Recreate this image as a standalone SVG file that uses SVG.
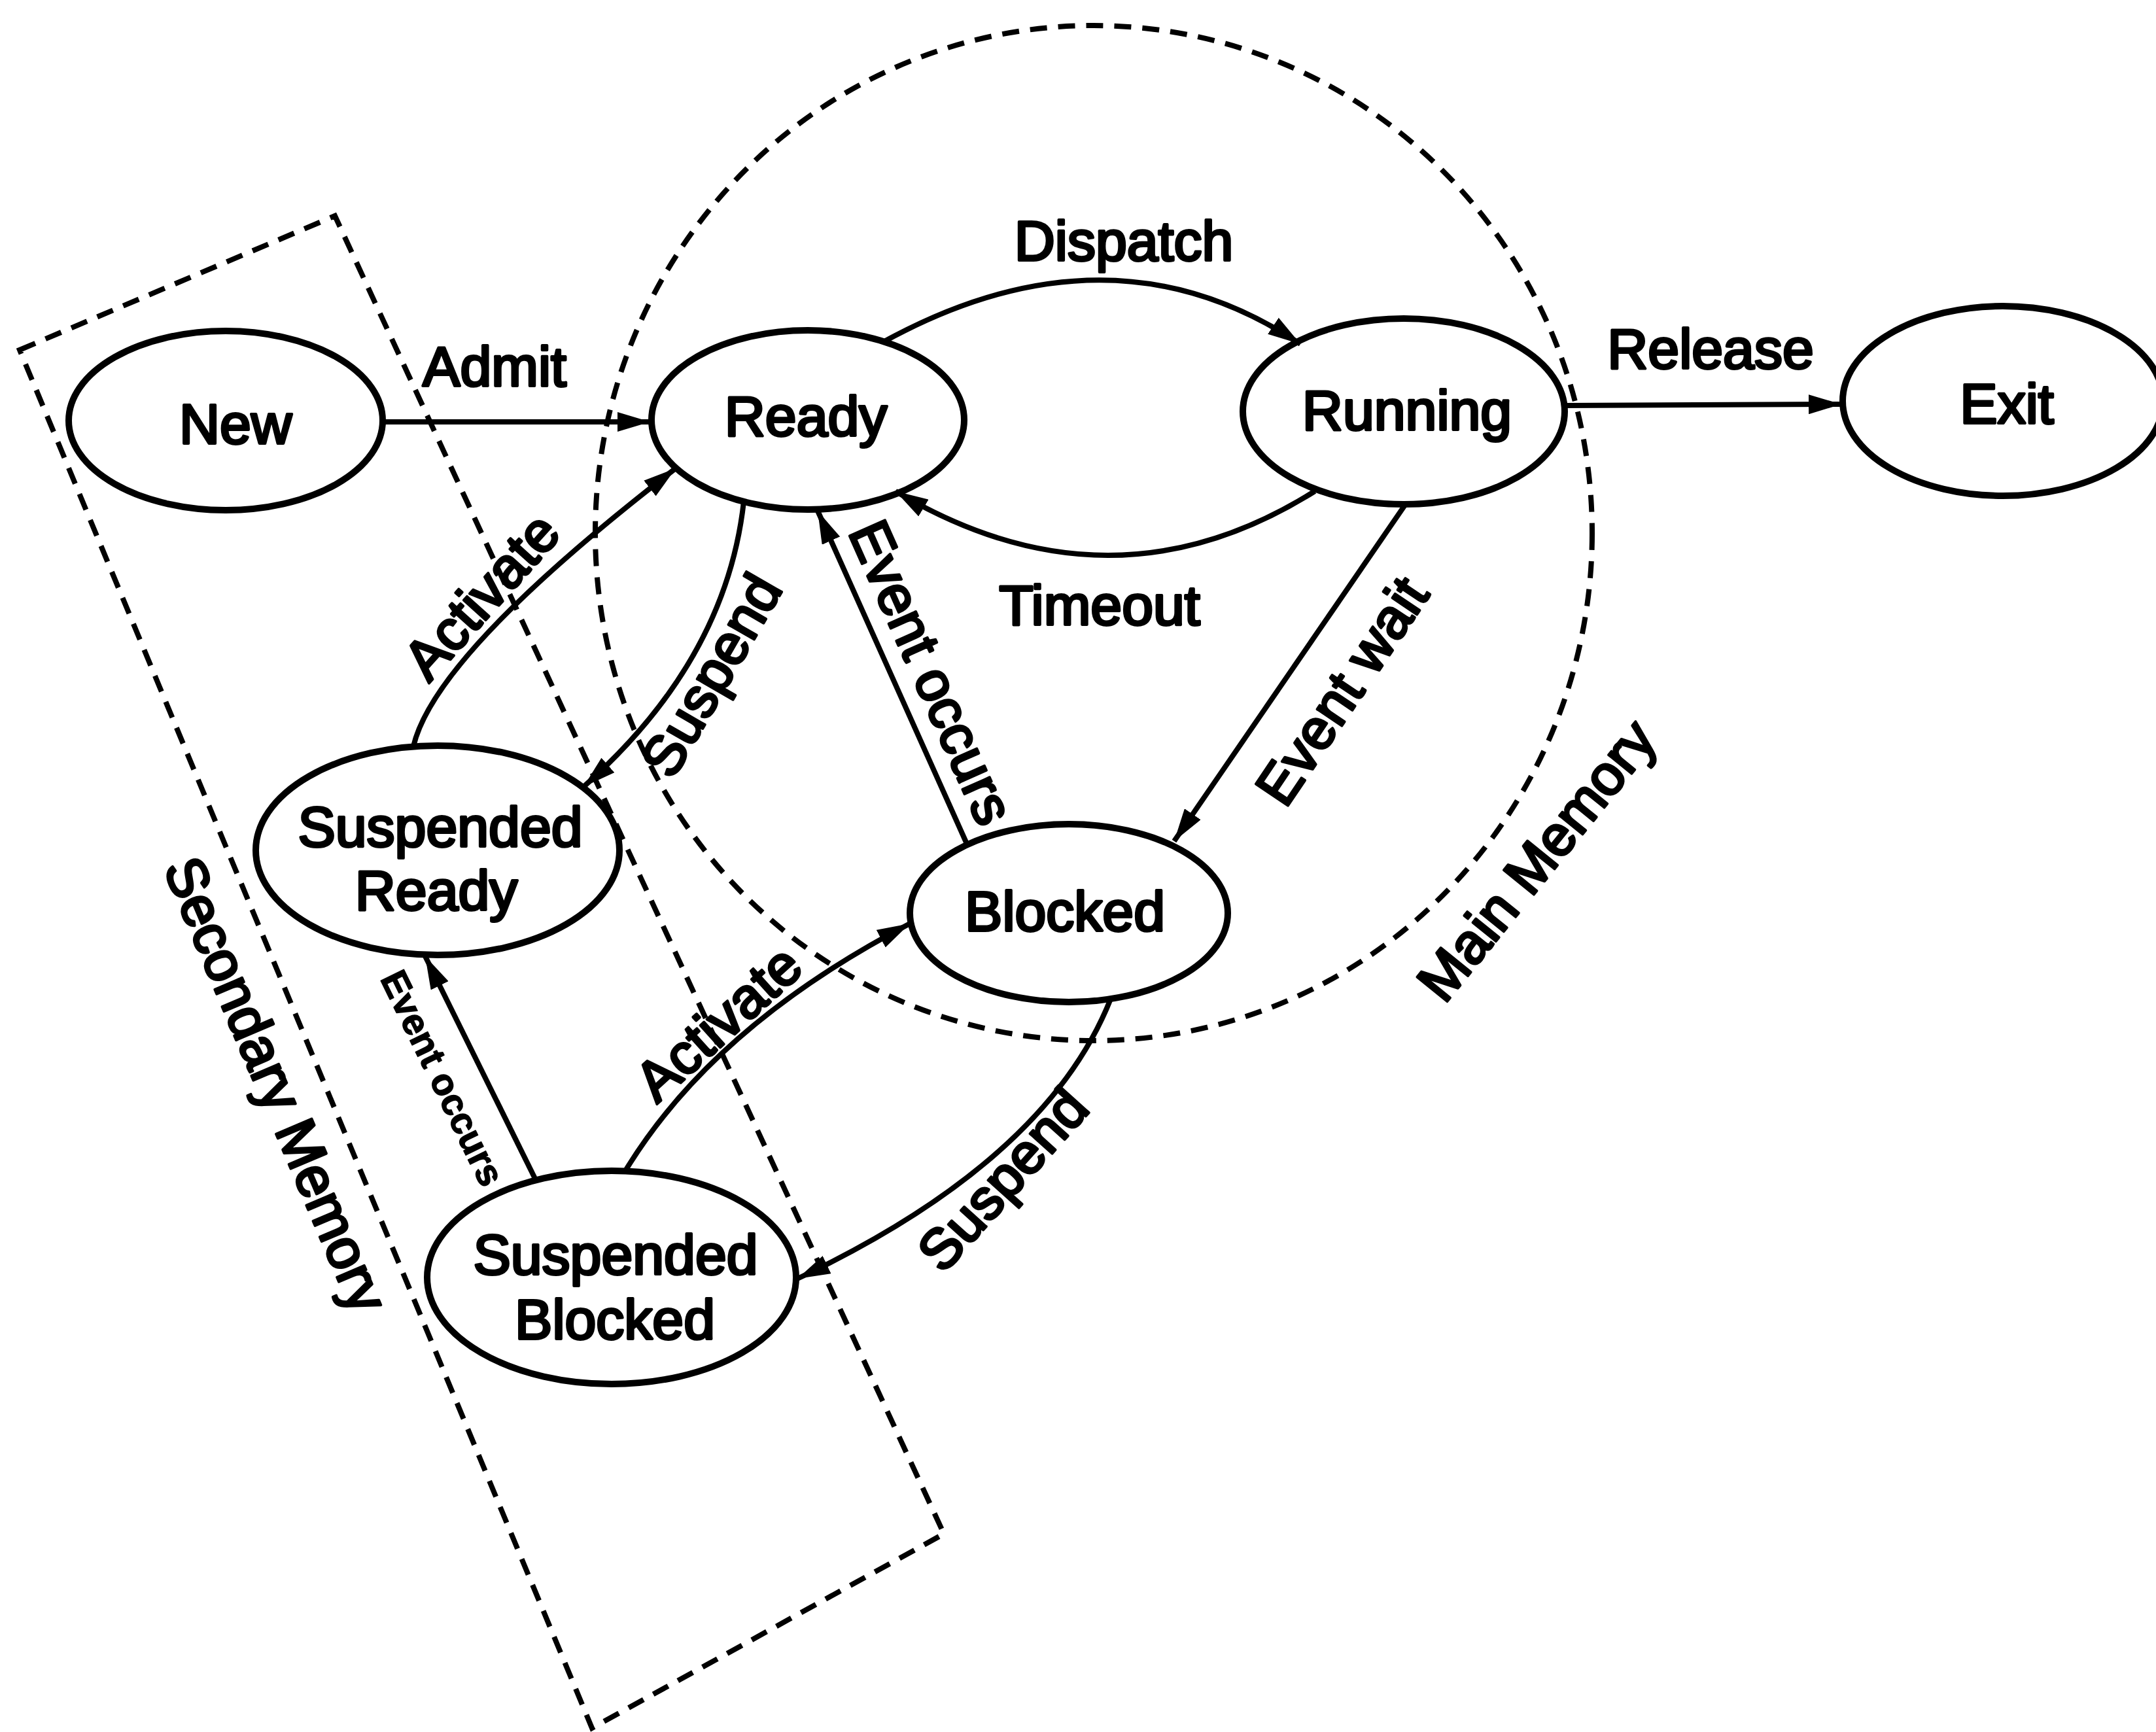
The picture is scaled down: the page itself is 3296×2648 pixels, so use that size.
<svg xmlns="http://www.w3.org/2000/svg" width="3296" height="2648" viewBox="0 0 3296 2648">
  <style>
    .node { fill: none; stroke: #000; stroke-width: 10; }
    .edge { fill: none; stroke: #000; stroke-width: 8; }
    .region { fill: none; stroke: #000; stroke-width: 8; stroke-dasharray: 26 17; }
    .lbl { font-family: "Liberation Sans", Arial, sans-serif; font-size: 86px; fill: #000; stroke: #000; stroke-width: 4; stroke-linejoin: round; text-anchor: middle; }
    .small { font-size: 57px; font-weight: bold; stroke-width: 1.5; }
  </style>
  <defs>
    <marker id="arrow" markerUnits="userSpaceOnUse" markerWidth="52" markerHeight="30" refX="50" refY="15" orient="auto">
      <path d="M0,0 L50,15 L0,30 z" fill="#000"/>
    </marker>
  </defs>

  <rect width="3296" height="2648" fill="#fff"/>

  <!-- memory regions -->
  <g id="main-memory">
    <ellipse class="region" cx="1672" cy="815" rx="762" ry="776"/>
    <text class="lbl" x="2372" y="1334" transform="rotate(-51 2372 1334)">Main Memory</text>
  </g>
  <g id="secondary-memory">
    <polygon class="region" points="30,535 512,330 1443,2345 905,2642"/>
    <text class="lbl" x="395" y="1670" transform="rotate(67 395 1670)">Secondary Memory</text>
  </g>

  <!-- transitions -->
  <g id="connectors">
    <path class="edge" d="M586,645 L994,645" marker-end="url(#arrow)"/>
    <path class="edge" d="M1350,523 Q1697,332 1988,526" marker-end="url(#arrow)"/>
    <path class="edge" d="M2010,751 Q1698,947 1369,751" marker-end="url(#arrow)"/>
    <path class="edge" d="M2392,620 L2815,618" marker-end="url(#arrow)"/>
    <path class="edge" d="M2150,769 L1795,1286" marker-end="url(#arrow)"/>
    <path class="edge" d="M1478,1290 L1250,781" marker-end="url(#arrow)"/>
    <path class="edge" d="M1137,767 Q1110,1010 892,1203" marker-end="url(#arrow)"/>
    <path class="edge" d="M632,1141 Q665,1000 1033,716" marker-end="url(#arrow)"/>
    <path class="edge" d="M819,1804 L650,1462" marker-end="url(#arrow)"/>
    <path class="edge" d="M956,1790 Q1090,1569 1391,1412" marker-end="url(#arrow)"/>
    <path class="edge" d="M1698,1527 Q1600,1775 1219,1955" marker-end="url(#arrow)"/>

    <text class="lbl" x="756" y="590">Admit</text>
    <text class="lbl" x="1718" y="398">Dispatch</text>
    <text class="lbl" x="1681" y="955">Timeout</text>
    <text class="lbl" x="2615" y="563">Release</text>
    <text class="lbl" x="2076" y="1073" transform="rotate(-56 2076 1073)">Event wait</text>
    <text class="lbl" x="1397" y="1040" transform="rotate(66 1397 1040)">Event occurs</text>
    <text class="lbl" x="1113" y="1047" transform="rotate(-60 1113 1047)">Suspend</text>
    <text class="lbl" x="758" y="931" transform="rotate(-48 758 931)">Activate</text>
    <text class="lbl small" x="659" y="1657" transform="rotate(64 659 1657)">Event occurs</text>
    <text class="lbl" x="1118" y="1586" transform="rotate(-42 1118 1586)">Activate</text>
    <text class="lbl" x="1555" y="1823" transform="rotate(-48 1555 1823)">Suspend</text>
  </g>

  <!-- states -->
  <g id="new">
    <ellipse class="node" cx="345" cy="643" rx="240" ry="137"/>
    <text class="lbl" x="360" y="678">New</text>
  </g>
  <g id="ready">
    <ellipse class="node" cx="1235" cy="642" rx="239" ry="137"/>
    <text class="lbl" x="1232" y="666">Ready</text>
  </g>
  <g id="running">
    <ellipse class="node" cx="2146" cy="629" rx="246" ry="142"/>
    <text class="lbl" x="2151" y="657">Running</text>
  </g>
  <g id="exit">
    <ellipse class="node" cx="3062" cy="613" rx="245" ry="145"/>
    <text class="lbl" x="3068" y="647">Exit</text>
  </g>
  <g id="blocked">
    <ellipse class="node" cx="1634" cy="1396" rx="243" ry="136"/>
    <text class="lbl" x="1628" y="1423">Blocked</text>
  </g>
  <g id="suspended-ready">
    <ellipse class="node" cx="669" cy="1300" rx="278" ry="160"/>
    <text class="lbl" x="673" y="1294">Suspended</text>
    <text class="lbl" x="667" y="1391">Ready</text>
  </g>
  <g id="suspended-blocked">
    <ellipse class="node" cx="935" cy="1953" rx="282" ry="163"/>
    <text class="lbl" x="941" y="1948">Suspended</text>
    <text class="lbl" x="940" y="2047">Blocked</text>
  </g>
</svg>
